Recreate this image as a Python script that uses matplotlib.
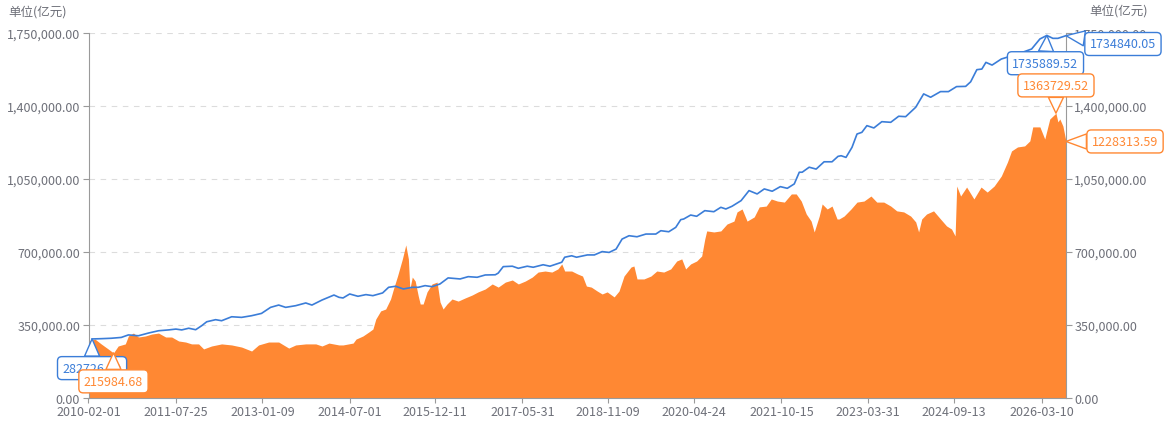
import numpy as np
import pandas as pd
import matplotlib
matplotlib.use("Agg")
import matplotlib.pyplot as plt
import matplotlib.dates as mdates
from matplotlib.ticker import FuncFormatter, MultipleLocator

plt.rcParams['font.family'] = ['Noto Sans CJK SC', 'DejaVu Sans']

# M2 (blue line), 亿元
m2_dates = [
    "2010-02-23", "2010-04-20", "2010-06-21", "2010-08-22", "2010-10-05", "2010-12-06",
    "2011-02-06", "2011-04-09", "2011-06-10", "2011-07-25", "2011-08-30", "2011-10-12",
    "2011-11-24", "2011-12-31", "2012-01-31", "2012-03-26", "2012-05-02", "2012-07-03",
    "2012-09-02", "2012-11-03", "2013-01-03", "2013-02-28", "2013-04-19", "2013-06-01",
    "2013-08-02", "2013-10-03", "2013-11-10", "2014-01-11", "2014-03-26", "2014-04-26",
    "2014-05-21", "2014-07-01", "2014-08-21", "2014-10-09", "2014-11-21", "2015-01-20",
    "2015-02-26", "2015-04-10", "2015-05-28", "2015-07-22", "2015-08-28", "2015-10-09",
    "2015-11-21", "2016-01-09", "2016-02-28", "2016-05-12", "2016-07-01", "2016-08-25",
    "2016-10-14", "2016-12-15", "2017-01-02", "2017-02-02", "2017-03-30", "2017-05-06",
    "2017-06-30", "2017-08-06", "2017-10-06", "2017-11-17", "2018-01-29", "2018-02-16",
    "2018-03-31", "2018-04-30", "2018-07-06", "2018-08-18", "2018-10-05", "2018-11-17",
    "2018-12-30", "2019-02-05", "2019-03-20", "2019-05-08", "2019-07-02", "2019-09-01",
    "2019-10-02", "2019-11-20", "2020-01-02", "2020-02-02", "2020-02-20", "2020-04-03",
    "2020-05-10", "2020-06-29", "2020-08-24", "2020-10-06", "2020-11-06", "2020-12-14",
    "2021-02-08", "2021-03-29", "2021-05-18", "2021-07-01", "2021-08-19", "2021-10-08",
    "2021-11-20", "2022-01-02", "2022-02-02", "2022-02-20", "2022-04-04", "2022-05-17",
    "2022-07-05", "2022-08-23", "2022-09-29", "2022-10-18", "2022-11-17", "2022-12-24",
    "2023-01-24", "2023-02-23", "2023-03-26", "2023-05-08", "2023-06-26", "2023-08-20",
    "2023-10-08", "2023-11-20", "2024-01-21", "2024-03-10", "2024-04-22", "2024-06-22",
    "2024-08-10", "2024-09-29", "2024-11-24", "2024-12-25", "2025-02-01", "2025-03-04",
    "2025-03-29", "2025-05-06", "2025-07-02", "2025-08-20", "2025-10-22", "2026-01-05",
    "2026-02-25", "2026-04-09", "2026-05-16", "2026-06-16", "2026-08-05",
]
m2_values = [
    282726.9, 284000, 286000, 290000, 302000, 298000,
    311000, 322000, 326000, 330000, 326000, 334000,
    327000, 346000, 365000, 375000, 370000, 389000,
    386000, 394000, 405000, 434000, 445000, 434000,
    442000, 455000, 445000, 469000, 493000, 482000,
    479000, 498000, 487000, 495000, 490000, 503000,
    530000, 535000, 522000, 530000, 530000, 538000,
    533000, 546000, 575000, 570000, 581000, 578000,
    589000, 590000, 598000, 629000, 631000, 621000,
    631000, 626000, 638000, 631000, 650000, 674000,
    681000, 674000, 685000, 685000, 701000, 697000,
    713000, 761000, 777000, 772000, 785000, 785000,
    801000, 796000, 817000, 854000, 857000, 876000,
    870000, 897000, 892000, 913000, 905000, 918000,
    945000, 993000, 977000, 1001000, 990000, 1012000,
    1004000, 1025000, 1081000, 1081000, 1105000, 1096000,
    1131000, 1131000, 1157000, 1160000, 1152000, 1200000,
    1264000, 1272000, 1304000, 1293000, 1323000, 1320000,
    1349000, 1347000, 1392000, 1456000, 1440000, 1467000,
    1467000, 1491000, 1492000, 1514000, 1572000, 1575000,
    1607000, 1594000, 1623000, 1635000, 1650000, 1671000,
    1719000, 1735889.52, 1722000, 1722000, 1734840.05,
]

# total market value (orange area), 亿元
cap_dates = [
    "2010-02-01", "2010-03-13", "2010-04-20", "2010-06-02", "2010-07-05", "2010-08-03",
    "2010-09-16", "2010-10-05", "2010-11-05", "2010-12-06", "2011-01-18", "2011-02-25",
    "2011-04-09", "2011-05-23", "2011-06-29", "2011-08-11", "2011-09-23", "2011-10-30",
    "2011-12-12", "2012-01-12", "2012-03-01", "2012-05-02", "2012-07-03", "2012-09-02",
    "2012-11-03", "2012-12-16", "2013-02-16", "2013-04-19", "2013-06-20", "2013-08-02",
    "2013-10-03", "2013-12-04", "2014-01-11", "2014-02-23", "2014-04-26", "2014-05-21",
    "2014-07-22", "2014-08-09", "2014-09-21", "2014-10-27", "2014-11-21", "2014-12-09",
    "2015-01-08", "2015-02-08", "2015-03-10", "2015-03-28", "2015-04-22", "2015-05-22",
    "2015-06-12", "2015-06-28", "2015-07-07", "2015-07-22", "2015-08-09", "2015-08-28",
    "2015-09-09", "2015-09-27", "2015-10-21", "2015-11-21", "2015-12-22", "2016-01-09",
    "2016-01-28", "2016-02-21", "2016-03-23", "2016-04-30", "2016-06-12", "2016-07-25",
    "2016-08-31", "2016-10-14", "2016-11-26", "2017-01-02", "2017-02-15", "2017-03-30",
    "2017-05-06", "2017-06-18", "2017-07-31", "2017-09-05", "2017-10-18", "2017-11-29",
    "2018-01-05", "2018-01-29", "2018-02-16", "2018-03-31", "2018-05-06", "2018-06-06",
    "2018-06-30", "2018-07-30", "2018-09-05", "2018-10-05", "2018-11-05", "2018-12-18",
    "2019-01-17", "2019-02-17", "2019-04-01", "2019-04-19", "2019-05-08", "2019-06-20",
    "2019-08-02", "2019-09-07", "2019-10-20", "2019-12-02", "2020-01-08", "2020-02-08",
    "2020-03-03", "2020-04-03", "2020-05-10", "2020-06-10", "2020-06-29", "2020-07-11",
    "2020-08-24", "2020-10-06", "2020-11-13", "2020-12-26", "2021-01-14", "2021-02-14",
    "2021-03-17", "2021-04-30", "2021-05-31", "2021-07-13", "2021-08-13", "2021-09-20",
    "2021-11-02", "2021-12-15", "2022-01-14", "2022-02-14", "2022-03-17", "2022-04-16",
    "2022-05-05", "2022-06-05", "2022-06-23", "2022-07-24", "2022-08-23", "2022-09-23",
    "2022-10-05", "2022-11-05", "2022-12-18", "2023-01-24", "2023-03-08", "2023-04-20",
    "2023-05-26", "2023-07-08", "2023-08-20", "2023-09-26", "2023-11-08", "2023-12-21",
    "2024-01-21", "2024-02-08", "2024-02-27", "2024-03-28", "2024-05-10", "2024-06-22",
    "2024-07-29", "2024-08-29", "2024-09-20", "2024-09-30", "2024-10-24", "2024-11-30",
    "2025-01-14", "2025-02-27", "2025-04-06", "2025-05-19", "2025-07-02", "2025-08-09",
    "2025-09-03", "2025-10-10", "2025-11-23", "2025-12-25", "2026-01-12", "2026-02-25",
    "2026-03-27", "2026-04-27", "2026-06-04", "2026-06-16", "2026-06-28", "2026-07-17",
    "2026-08-05",
]
cap_values = [
    273000, 282000, 259000, 235000, 215984.68, 249000,
    259000, 297000, 311000, 292000, 297000, 306000,
    311000, 292000, 292000, 273000, 268000, 259000,
    259000, 235000, 249000, 259000, 254000, 244000,
    225000, 254000, 268000, 268000, 239000, 254000,
    259000, 259000, 249000, 263000, 254000, 254000,
    263000, 282000, 297000, 316000, 330000, 378000,
    417000, 426000, 474000, 522000, 584000, 666000,
    733000, 666000, 522000, 579000, 560000, 488000,
    450000, 450000, 508000, 546000, 555000, 460000,
    426000, 450000, 474000, 464000, 479000, 493000,
    508000, 522000, 546000, 531000, 555000, 565000,
    546000, 560000, 579000, 603000, 608000, 603000,
    618000, 642000, 608000, 608000, 594000, 584000,
    536000, 531000, 512000, 498000, 508000, 484000,
    512000, 584000, 627000, 632000, 570000, 570000,
    584000, 608000, 603000, 618000, 656000, 666000,
    618000, 642000, 656000, 680000, 761000, 800000,
    795000, 800000, 833000, 847000, 891000, 905000,
    847000, 867000, 915000, 919000, 953000, 943000,
    938000, 977000, 977000, 943000, 881000, 847000,
    795000, 871000, 929000, 905000, 919000, 857000,
    857000, 871000, 905000, 938000, 943000, 967000,
    938000, 938000, 919000, 896000, 891000, 871000,
    843000, 795000, 857000, 881000, 896000, 857000,
    824000, 809000, 776000, 1015000, 967000, 1010000,
    953000, 1010000, 986000, 1015000, 1063000, 1130000,
    1183000, 1202000, 1207000, 1231000, 1298000, 1298000,
    1240000, 1336000, 1363729.52, 1322000, 1336000, 1302000,
    1228313.59,
]

tick_dates = ["2010-02-01", "2011-07-25", "2013-01-09", "2014-07-01",
              "2015-12-11", "2017-05-31", "2018-11-09", "2020-04-24",
              "2021-10-15", "2023-03-31", "2024-09-13", "2026-03-10"]
unit_label = "单位(亿元)"

BLUE = "#3b7dd8"
ORANGE = "#ff8833"
GREY = "#6e7079"
AXIS = "#9a9a9a"

m2_x = mdates.date2num(pd.to_datetime(m2_dates))
m2_y = np.array(m2_values)
cap_x = mdates.date2num(pd.to_datetime(cap_dates))
cap_y = np.array(cap_values)

W, H = 1167, 427
fig = plt.figure(figsize=(W / 100, H / 100), dpi=100)
ax = fig.add_axes([88.5 / W, 28 / H, (1066 - 88.5) / W, 365.5 / H])

ax.fill_between(cap_x, cap_y, 0, color=ORANGE, lw=0, zorder=2)
ax.plot(m2_x, m2_y, color=BLUE, lw=1.2, zorder=3)

ax.set_xlim(cap_x[0], cap_x[-1])
ax.set_ylim(0, 1750000)
money = FuncFormatter(lambda v, p: f"{v:,.2f}")
ax.yaxis.set_major_locator(MultipleLocator(350000))
ax.yaxis.set_major_formatter(money)
ax.grid(axis='y', color='#dcdcdc', ls=(0, (5, 5)), lw=0.8, zorder=1)
ax.set_axisbelow(True)

ax.set_xticks(mdates.date2num(pd.to_datetime(tick_dates)))
ax.set_xticklabels(tick_dates)

for side in ['top', 'right']:
    ax.spines[side].set_visible(False)
for side in ['left', 'bottom']:
    ax.spines[side].set_color(AXIS)
    ax.spines[side].set_linewidth(0.8)
ax.tick_params(axis='y', length=4, width=0.8, color=AXIS, labelcolor=GREY, labelsize=9, pad=2)
ax.tick_params(axis='x', length=3.6, width=0.8, color=AXIS, labelcolor=GREY, labelsize=9, pad=1.5)

ax2 = ax.twinx()
ax2.set_ylim(ax.get_ylim())
ax2.yaxis.set_major_locator(MultipleLocator(350000))
ax2.yaxis.set_major_formatter(money)
for side in ['top', 'left', 'bottom']:
    ax2.spines[side].set_visible(False)
ax2.spines['right'].set_color(AXIS)
ax2.spines['right'].set_linewidth(0.8)
ax2.tick_params(axis='y', length=4, width=0.8, color=AXIS, labelcolor=GREY, labelsize=9, pad=2)


def callout(x, y, text, color, offset):
    ax2.annotate(text, xy=(x, y), xycoords=ax.transData,
                 xytext=offset, textcoords='offset points',
                 ha='center', va='center', fontsize=9, color=color,
                 annotation_clip=False, zorder=10,
                 bbox=dict(boxstyle='round,pad=0.4,rounding_size=0.35',
                           fc='white', ec=color, lw=1),
                 arrowprops=dict(arrowstyle='wedge,tail_width=1.2,shrink_factor=0.5',
                                 fc='white', ec=color, lw=1,
                                 shrinkA=0, shrinkB=0))


i_m2_min = int(np.argmin(m2_y))
i_m2_max = int(np.argmax(m2_y))
i_cap_min = int(np.argmin(cap_y))
i_cap_max = int(np.argmax(cap_y))

callout(m2_x[i_m2_min], m2_y[i_m2_min], f"{m2_y[i_m2_min]:.2f}", BLUE, (0, -21))
callout(cap_x[i_cap_min], cap_y[i_cap_min], f"{cap_y[i_cap_min]:.2f}", ORANGE, (0, -20.5))
callout(m2_x[i_m2_max], m2_y[i_m2_max], f"{m2_y[i_m2_max]:.2f}", BLUE, (-1, -20))
callout(cap_x[i_cap_max], cap_y[i_cap_max], f"{cap_y[i_cap_max]:.2f}", ORANGE, (0, 20))
callout(m2_x[-1], m2_y[-1], f"{m2_y[-1]:.2f}", BLUE, (41, -6))
callout(cap_x[-1], cap_y[-1], f"{cap_y[-1]:.2f}", ORANGE, (42.5, 0))

fig.text(8 / W, 1 - 12 / H, unit_label, ha='left', va='center', fontsize=9, color=GREY)
fig.text(1089 / W, 1 - 11 / H, unit_label, ha='left', va='center', fontsize=9, color=GREY)

fig.savefig("out.png", dpi=100)
